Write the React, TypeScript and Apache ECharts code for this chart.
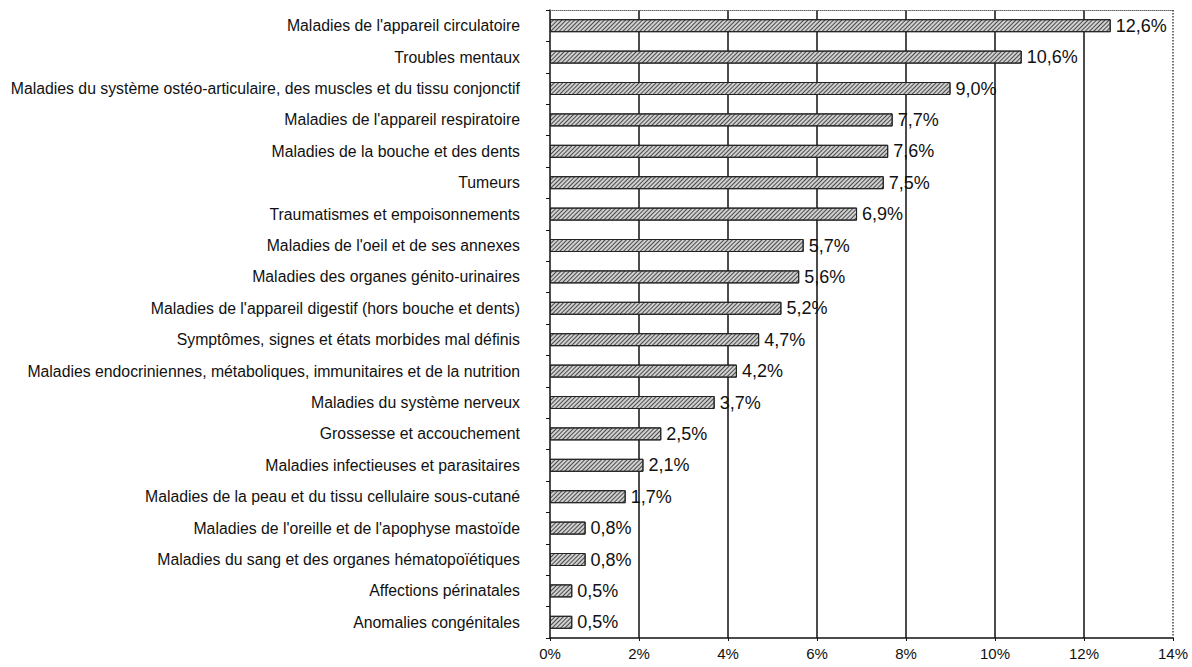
import React, { useEffect, useRef } from "react";
import * as echarts from "echarts";

const categories = [
  "Maladies de l'appareil circulatoire",
  "Troubles mentaux",
  "Maladies du système ostéo-articulaire, des muscles et du tissu conjonctif",
  "Maladies de l'appareil respiratoire",
  "Maladies de la bouche et des dents",
  "Tumeurs",
  "Traumatismes et empoisonnements",
  "Maladies de l'oeil et de ses annexes",
  "Maladies des organes génito-urinaires",
  "Maladies de l'appareil digestif (hors bouche et dents)",
  "Symptômes, signes et états morbides mal définis",
  "Maladies endocriniennes, métaboliques, immunitaires et de la nutrition",
  "Maladies du système nerveux",
  "Grossesse et accouchement",
  "Maladies infectieuses et parasitaires",
  "Maladies de la peau et du tissu cellulaire sous-cutané",
  "Maladies de l'oreille et de l'apophyse mastoïde",
  "Maladies du sang et des organes hématopoïétiques",
  "Affections périnatales",
  "Anomalies congénitales",
];

const values = [12.6, 10.6, 9.0, 7.7, 7.6, 7.5, 6.9, 5.7, 5.6, 5.2, 4.7, 4.2, 3.7, 2.5, 2.1, 1.7, 0.8, 0.8, 0.5, 0.5];

const xTicks = [0, 2, 4, 6, 8, 10, 12, 14];

const fmt = (v: number) => v.toFixed(1).replace(".", ",") + "%";

export default function App() {
  const ref = useRef<HTMLDivElement>(null);
  useEffect(() => {
    if (!ref.current) return;
    const chart = echarts.init(ref.current, undefined, { renderer: "svg" });
    const font = "Liberation Sans, Arial, sans-serif";
    const xMax = xTicks[xTicks.length - 1];
    chart.setOption({
      animation: false,
      backgroundColor: "#ffffff",
      grid: { left: 550, right: 19, top: 10, bottom: 29, containLabel: false },
      xAxis: [
        {
          type: "value",
          min: xTicks[0],
          max: xMax,
          interval: 2,
          position: "bottom",
          axisLine: { show: true, lineStyle: { color: "#111", width: 1.5 } },
          axisTick: { show: true, length: 3, lineStyle: { color: "#111" } },
          axisLabel: {
            formatter: (v: number) => v + "%",
            color: "#111",
            fontFamily: font,
            fontSize: 15,
            margin: 8,
          },
          splitLine: {
            show: true,
            showMinLine: false,
            showMaxLine: false,
            lineStyle: { color: "#111", width: 1.5 },
          },
        },
        {
          type: "value",
          min: 0,
          max: xMax,
          position: "top",
          axisLine: { show: true, lineStyle: { color: "#666", type: "dotted", width: 1 } },
          axisTick: { show: false },
          axisLabel: { show: false },
          splitLine: { show: false },
        },
      ],
      yAxis: [
        {
          type: "category",
          data: categories,
          inverse: true,
          axisLine: { show: true, lineStyle: { color: "#111", width: 1.5 } },
          axisTick: { show: true, length: 4, lineStyle: { color: "#111" } },
          axisLabel: {
            color: "#111",
            fontFamily: font,
            fontSize: 15.8,
            margin: 30,
          },
        },
      ],
      series: [
        {
          type: "bar",
          data: values,
          barWidth: 13,
          clip: false,
          itemStyle: {
            color: "#d0d0d0",
            borderColor: "#222",
            borderWidth: 1,
            decal: {
              symbol: "rect",
              symbolSize: 1,
              dashArrayX: [1, 0],
              dashArrayY: [1, 2],
              rotation: -Math.PI / 4,
              color: "rgba(40,40,40,0.8)",
            },
          },
          label: {
            show: true,
            position: "right",
            distance: 5,
            formatter: (p: any) => fmt(p.value),
            color: "#111",
            fontFamily: font,
            fontSize: 18,
          },
          markLine: {
            silent: true,
            symbol: ["none", "none"],
            label: { show: false },
            lineStyle: { color: "#444", type: "dotted", width: 1.5 },
            data: [{ xAxis: xMax }],
          },
        },
      ],
    });
    return () => chart.dispose();
  }, []);
  return (
    <div
      ref={ref}
      style={{ position: "fixed", left: 0, top: 0, width: 1192, height: 667, background: "#fff" }}
    />
  );
}
